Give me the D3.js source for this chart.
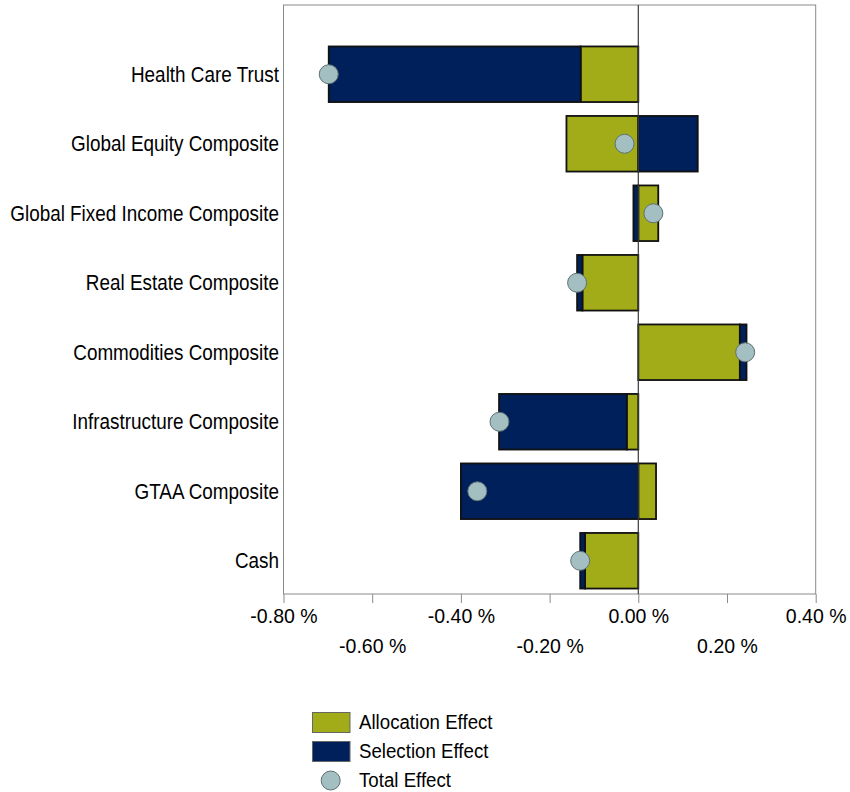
<!DOCTYPE html>
<html>
<head>
<meta charset="utf-8">
<script src="https://cdn.jsdelivr.net/npm/d3@7"></script>
<style>
  html, body { margin: 0; padding: 0; background: #fff; }
  svg { display: block; font-family: "Liberation Sans", Arial, sans-serif; }
</style>
</head>
<body>
<svg id="chart" width="850" height="792"></svg>
<script>
const categories = ["Health Care Trust", "Global Equity Composite", "Global Fixed Income Composite",
  "Real Estate Composite", "Commodities Composite", "Infrastructure Composite", "GTAA Composite", "Cash"];
const allocationEffect = [-0.130, -0.162, 0.045, -0.126, 0.229, -0.026, 0.040, -0.120];
const selectionEffect  = [-0.568, 0.134, -0.011, -0.012, 0.015, -0.288, -0.400, -0.011];
const totalEffect      = [-0.698, -0.031, 0.034, -0.138, 0.241, -0.313, -0.363, -0.131];
const tickValues = [-0.8, -0.6, -0.4, -0.2, 0.0, 0.2, 0.4];
const seriesNames = ["Allocation Effect", "Selection Effect", "Total Effect"];

const svg = d3.select("#chart");
const colors = { alloc: "#A2AC19", sel: "#00205B", total: "#A3BFC1" };

const plot = { left: 283.5, right: 815.7, top: 5, bottom: 594 };
const x = d3.scaleLinear().domain([-0.8, 0.4]).range([plot.left, plot.right]);
const y = d3.scaleBand().domain(categories).range([39.5, 595.5]).paddingInner(0.2).paddingOuter(0.1);

const rows = categories.map((c, i) => ({ cat: c, alloc: allocationEffect[i], sel: selectionEffect[i], total: totalEffect[i] }));
const stack = d3.stack().keys(["alloc", "sel"]).offset(d3.stackOffsetDiverging);
const stacked = stack(rows);

// frame
svg.append("rect")
  .attr("x", plot.left).attr("y", plot.top)
  .attr("width", plot.right - plot.left).attr("height", plot.bottom - plot.top)
  .attr("fill", "none").attr("stroke", "#8a8a8a").attr("stroke-width", 1);

// x axis ticks
const axis = svg.append("g").attr("transform", `translate(0,${plot.bottom})`)
  .call(d3.axisBottom(x).tickValues(tickValues).tickSize(9).tickFormat(""));
axis.select(".domain").remove();
axis.selectAll(".tick line").attr("stroke", "#8a8a8a");

// tick labels in two staggered rows
const fmt = v => d3.format(".2f")(v).replace("\u2212", "-") + " %";
axis.selectAll(".tick").each(function(d, i) {
  const g = d3.select(this);
  const row2 = i % 2 === 1;
  g.append("text")
    .attr("transform", `translate(0,${row2 ? 59 : 29}) scale(0.93,1)`)
    .attr("text-anchor", "middle")
    .attr("fill", "#000")
    .attr("font-size", "21px")
    .text(fmt(d));
});

// bars
const seriesColor = { alloc: colors.alloc, sel: colors.sel };
stacked.forEach(s => {
  svg.append("g").selectAll("rect").data(s).join("rect")
    .attr("x", d => x(Math.min(d[0], d[1])))
    .attr("y", d => y(d.data.cat))
    .attr("width", d => Math.abs(x(d[1]) - x(d[0])))
    .attr("height", y.bandwidth())
    .attr("fill", seriesColor[s.key])
    .attr("stroke", "#111")
    .attr("stroke-width", 1.8);
});

// zero line
svg.append("line")
  .attr("x1", x(0)).attr("x2", x(0))
  .attr("y1", plot.top).attr("y2", plot.bottom)
  .attr("stroke", "#3a3a3a").attr("stroke-width", 1.2);

// total effect points
svg.append("g").selectAll("circle").data(rows).join("circle")
  .attr("cx", d => x(d.total))
  .attr("cy", d => y(d.cat) + y.bandwidth() / 2)
  .attr("r", 9.5)
  .attr("fill", colors.total)
  .attr("stroke", "#5e7173")
  .attr("stroke-width", 1);

// category labels
svg.append("g").selectAll("g").data(categories).join("g")
  .attr("transform", d => `translate(279,${y(d) + y.bandwidth() / 2 + 7.5})`)
  .append("text")
  .attr("transform", "scale(0.84,1)")
  .attr("text-anchor", "end")
  .attr("font-size", "22.5px")
  .attr("fill", "#000")
  .text(d => d);

// legend
const legend = svg.append("g");
const ly = [722, 751, 780];
legend.append("rect").attr("x", 312.5).attr("y", 712.5).attr("width", 37.5).attr("height", 20)
  .attr("fill", colors.alloc).attr("stroke", "#666").attr("stroke-width", 1);
legend.append("rect").attr("x", 312.5).attr("y", 741.5).attr("width", 37.5).attr("height", 20)
  .attr("fill", colors.sel).attr("stroke", "#666").attr("stroke-width", 1);
legend.append("circle").attr("cx", 330.7).attr("cy", 780.5).attr("r", 9.5)
  .attr("fill", colors.total).attr("stroke", "#5e7173").attr("stroke-width", 1);
seriesNames.forEach((n, i) => {
  legend.append("g").attr("transform", `translate(359,${ly[i] + 6.5})`)
    .append("text")
    .attr("transform", "scale(0.89,1)")
    .attr("font-size", "21px")
    .attr("fill", "#000")
    .text(n);
});
</script>
</body>
</html>
